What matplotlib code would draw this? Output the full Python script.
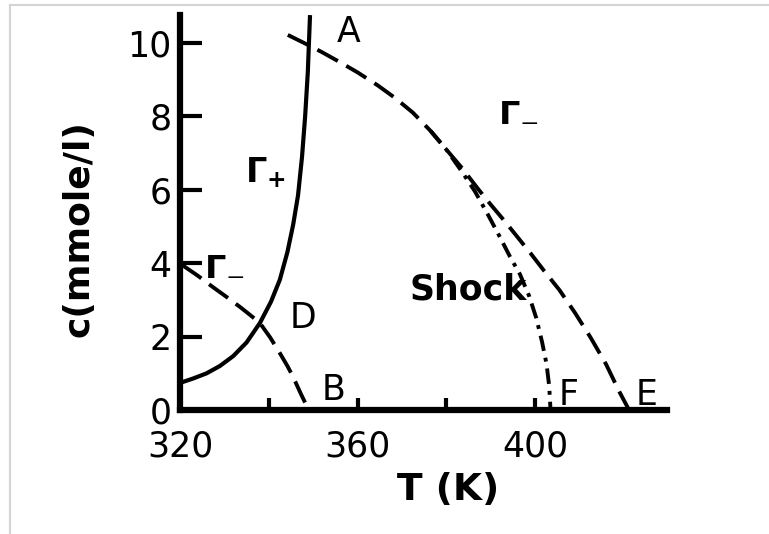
import matplotlib
matplotlib.use("Agg")
import matplotlib.pyplot as plt
from matplotlib.lines import Line2D

# Solid path: from the c-axis up to point A
solid_T = [320.3, 323.0, 326.0, 329.0, 332.0, 335.0, 338.0, 340.5, 342.5,
           344.2, 345.5, 346.6, 347.5, 348.2, 348.8, 349.3]
solid_c = [0.75, 0.86, 1.00, 1.20, 1.47, 1.84, 2.37, 2.95, 3.55,
           4.30, 5.05, 5.85, 6.90, 8.00, 9.20, 10.76]

# Dashed path: from c = 4 through D down to B
lower_T = [320.5, 324.0, 327.4, 330.5, 333.5, 336.0, 338.0, 340.3, 342.5,
           344.2, 345.5, 347.2, 349.0]
lower_c = [3.95, 3.66, 3.35, 3.08, 2.81, 2.57, 2.37, 1.98, 1.55,
           1.20, 0.90, 0.45, 0.00]

# Dashed path: from A down to E
upper_T = [344.3, 349.3, 352.0, 356.0, 360.0, 364.5, 368.5, 372.5, 376.5,
           380.0, 383.5, 387.0, 390.0, 393.0, 396.0, 399.0, 402.0, 405.5,
           409.0, 412.5, 416.0, 419.0, 421.2]
upper_c = [10.22, 9.92, 9.75, 9.48, 9.20, 8.85, 8.50, 8.10, 7.60,
           7.10, 6.60, 6.05, 5.60, 5.17, 4.72, 4.27, 3.80, 3.27,
           2.65, 1.98, 1.25, 0.50, 0.00]

# Shock path: leaves the A-E branch and ends at F
shock_T = [376.5, 380.0, 383.5, 386.5, 389.5, 392.1, 394.4, 396.6, 398.7,
           400.3, 401.6, 402.6, 403.2, 403.5]
shock_c = [7.60, 7.10, 6.50, 5.95, 5.30, 4.71, 4.17, 3.70, 3.10,
           2.50, 1.85, 1.25, 0.65, 0.00]

x_ticks = [320, 340, 360, 380, 400]
x_tick_labels = ["320", "", "360", "", "400"]
y_ticks = [0, 2, 4, 6, 8, 10]
y_tick_labels = ["0", "2", "4", "6", "8", "10"]

fig = plt.figure(figsize=(7.69, 5.34), dpi=100)
ax = fig.add_axes([180 / 769, 124 / 534, 487 / 769, 395 / 534])
ax.set_xlim(320, 320 + 487 / 4.4375)
ax.set_ylim(0, 395 / 36.7)

ink = "black"
ax.plot(solid_T, solid_c, color=ink, lw=3.0, solid_capstyle="butt", clip_on=False)
ax.plot(lower_T, lower_c, color=ink, lw=2.8, dashes=(6, 2.5), clip_on=False)
ax.plot(upper_T, upper_c, color=ink, lw=2.8, dashes=(6, 2.5), clip_on=False)
ax.plot(shock_T, shock_c, color=ink, lw=2.8, dashes=(4, 1.8, 1, 1.8), clip_on=False)

for side in ("top", "right"):
    ax.spines[side].set_visible(False)
for side in ("left", "bottom"):
    ax.spines[side].set_linewidth(4.5)
    ax.spines[side].set_color(ink)

ax.set_xticks(x_ticks)
ax.set_xticklabels(x_tick_labels)
ax.set_yticks(y_ticks)
ax.set_yticklabels(y_tick_labels)
ax.tick_params(axis="y", direction="in", length=16, width=3, labelsize=25, pad=6)
ax.tick_params(axis="x", direction="in", length=9, width=3, labelsize=25, pad=14)

ax.set_xlabel("T (K)", fontsize=27, fontweight="bold")
ax.xaxis.set_label_coords(0.55, -0.203)
ax.xaxis.label.set_va("center")
ax.set_ylabel("c(mmole/l)", fontsize=26, fontweight="bold")
ax.yaxis.set_label_coords(-0.209, 0.46)
ax.yaxis.label.set_va("center")

letter_kw = dict(fontsize=25, ha="center", va="center", color=ink)
ax.text(357.9, 10.3, "A", **letter_kw)
ax.text(354.5, 0.54, "B", **letter_kw)
ax.text(347.7, 2.5, "D", **letter_kw)
ax.text(425.2, 0.41, "E", **letter_kw)
ax.text(407.6, 0.41, "F", **letter_kw)
ax.text(385.0, 3.27, "Shock", fontsize=25, fontweight="bold",
        ha="center", va="center", color=ink)

gamma_kw = dict(fontsize=24, ha="center", va="center", color=ink)
ax.text(339.2, 6.48, r"$\mathbf{\Gamma_{+}}$", **gamma_kw)
ax.text(396.2, 8.12, r"$\mathbf{\Gamma_{-}}$", **gamma_kw)
ax.text(330.1, 3.95, r"$\mathbf{\Gamma_{-}}$", **gamma_kw)

# thin grey frame along the top and left edges
frame = "#d4d4d4"
fig.add_artist(Line2D([10 / 769, 1], [1 - 5 / 534] * 2,
                      transform=fig.transFigure, color=frame, lw=1.5))
fig.add_artist(Line2D([10 / 769] * 2, [0, 1 - 5 / 534],
                      transform=fig.transFigure, color=frame, lw=1.5))

fig.savefig("out.png", dpi=100)
